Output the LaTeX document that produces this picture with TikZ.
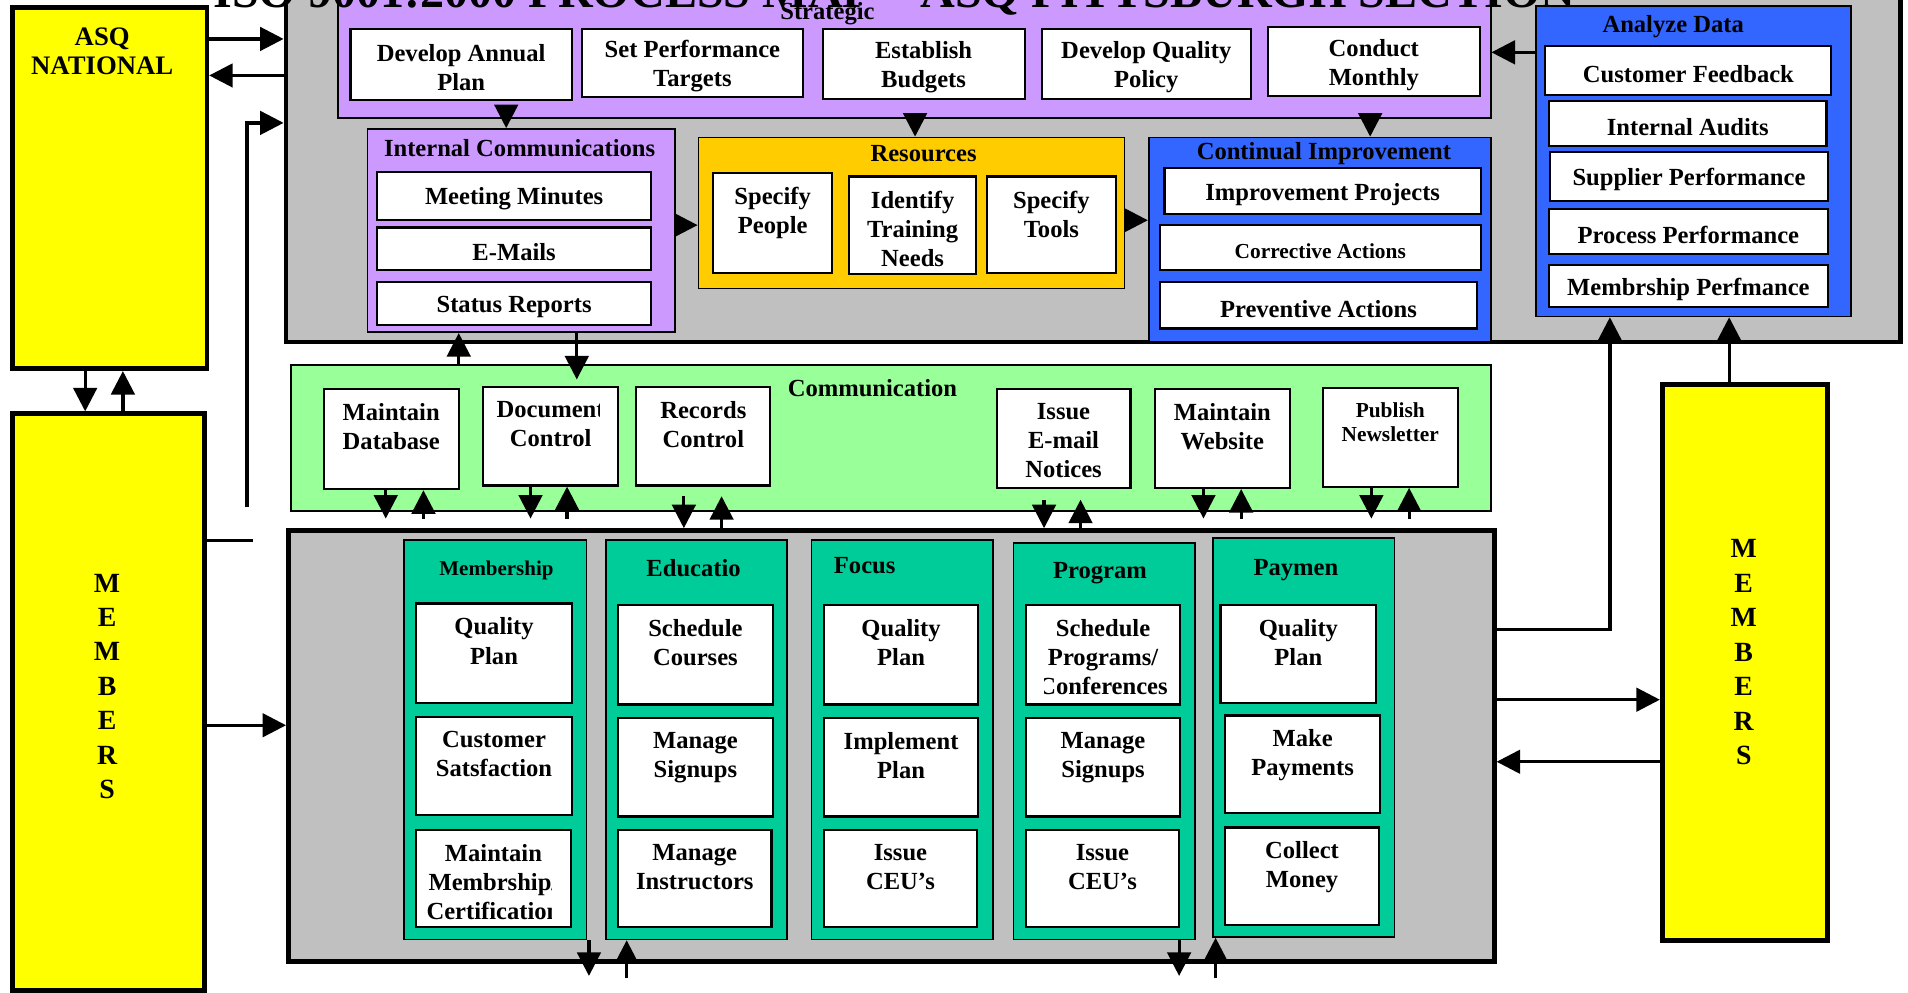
\documentclass[tikz,border=0pt]{standalone}
\usepackage{fontspec}
\setmainfont{Liberation Serif}
\usetikzlibrary{
    arrows.meta,
    fit,
    positioning
}

\definecolor{asqyellow}{HTML}{FFFF00}
\definecolor{panelgray}{HTML}{C0C0C0}
\definecolor{lilac}{HTML}{CC99FF}
\definecolor{amber}{HTML}{FFCC00}
\definecolor{royal}{HTML}{3366FF}
\definecolor{mint}{HTML}{99FF99}
\definecolor{jade}{HTML}{00CC99}

\tikzset{
    txt/.style={font=\bfseries\fontsize{11.5}{13.6}\selectfont, align=center, inner sep=0pt},
    smalltxt/.style={font=\bfseries\fontsize{10}{11.5}\selectfont, align=center, inner sep=0pt},
    head/.style={font=\bfseries\fontsize{11.5}{13.6}\selectfont, inner sep=0pt, anchor=base},
    toplbl/.style={txt, anchor=north, yshift=-7pt},
    midlbl/.style={txt, yshift=-1.5pt},
    mid/.style={label={[midlbl]center:{#1}}},
    midsmall/.style={label={[midlbl, smalltxt]center:{#1}}},
    upper/.style={label={[toplbl]north:{#1}}},
    uppersmall/.style={label={[toplbl, smalltxt]north:{#1}}},
    letters/.style={font=\bfseries\fontsize{13}{16.1}\selectfont, align=center, inner sep=0pt},
    banner/.style={font=\bfseries\fontsize{22.5}{27}\selectfont, inner sep=0pt, anchor=base},
    panel/.style={draw, fill=panelgray, line width=2.2pt, inner sep=0pt},
    pillar/.style={draw, fill=asqyellow, line width=2.2pt, inner sep=0pt},
    group/.style={draw, line width=0.8pt, inner sep=0pt},
    task/.style={draw, fill=white, line width=1pt, inner sep=0pt},
    flow/.style={-{Triangle[length=11pt, width=11pt]}, line width=1.5pt},
    wire/.style={line width=1.5pt}
}

\begin{document}
\begin{tikzpicture}[x=0.02cm, y=-0.02cm]
    \useasboundingbox (0,0) rectangle (1568,816);
    \clip (0,0) rectangle (1568,816);

    \node[pillar, fit={(10,6) (170,303)}] (asq) {};
    \node[letters, font=\bfseries\fontsize{12.5}{13.7}\selectfont] (asqtext) at (84,42) {ASQ\\NATIONAL};
    \node[pillar, fit={(10,340) (168,814)}] (memL) {};
    \node[letters] (memLtext) at (88,564) {M\\E\\M\\B\\E\\R\\S};
    \node[pillar, fit={(1366,316) (1502,773)}] (memR) {};
    \node[letters] (memRtext) at (1433,536) {M\\E\\M\\B\\E\\R\\S};

    \node[panel, fit={(235,-20) (1562,281)}] (top) {};

    \node[group, fill=lilac, fit={(278,-10) (1225,97)}] (strat) {};
    \node[head] (strathd) at (680,16) {Strategic};
    \node[task, fit={(288,24) (470,82)}, mid={Develop Annual\\Plan}] (dap) {};
    \node[task, fit={(478,24) (660,80)}, mid={Set Performance\\Targets}] (spt) {};
    \node[task, fit={(676,24) (842,81)}, mid={Establish\\Budgets}] (ebg) {};
    \node[task, fit={(856,24) (1028,81)}, mid={Develop Quality\\Policy}] (dqp) {};
    \node[task, fit={(1042,22) (1216,79)}, mid={Conduct\\Monthly}] (cmo) {};

    \node[group, fill=lilac, fit={(302,106) (555,273)}] (ic) {};
    \node[head] (ichd) at (427,129) {Internal Communications};
    \node[task, fit={(310,141) (535,181)}, mid={Meeting Minutes}] (mmn) {};
    \node[task, fit={(310,187) (535,222)}, mid={E-Mails}] (eml) {};
    \node[task, fit={(310,232) (535,267)}, mid={Status Reports}] (srp) {};

    \node[group, fill=amber, fit={(574,113) (924,237)}] (res) {};
    \node[head] (reshd) at (759,133) {Resources};
    \node[task, fit={(586,142) (684,224)}, upper={Specify\\People}] (spp) {};
    \node[task, fit={(698,145) (802,225)}, upper={Identify\\Training\\Needs}] (itn) {};
    \node[task, fit={(811,145) (917,224)}, upper={Specify\\Tools}] (stl) {};

    \node[group, fill=royal, fit={(944,113) (1225,281)}] (ci) {};
    \node[head] (cihd) at (1088,131) {Continual Improvement};
    \node[task, fit={(957,138) (1217,176)}, mid={Improvement Projects}] (ipj) {};
    \node[task, fit={(953,185) (1217,222)}, midsmall={Corrective Actions}] (cac) {};
    \node[task, fit={(953,232) (1214,270)}, mid={Preventive Actions}] (pac) {};

    \node[group, fill=royal, fit={(1262,5) (1521,260)}] (ad) {};
    \node[head] (adhd) at (1375,27) {Analyze Data};
    \node[task, fit={(1270,38) (1505,78)}, mid={Customer Feedback}] (cfb) {};
    \node[task, fit={(1273,83) (1501,120)}, mid={Internal Audits}] (iau) {};
    \node[task, fit={(1274,125) (1502,165)}, mid={Supplier Performance}] (spf) {};
    \node[task, fit={(1273,172) (1502,209)}, mid={Process Performance}] (ppf) {};
    \node[task, fit={(1273,218) (1502,252)}, mid={Membrship Perfmance}] (mpf) {};

    \node[group, fill=mint, fit={(239,300) (1225,420)}] (comm) {};
    \node[head] (commhd) at (717,326) {Communication};
    \node[task, fit={(266,320) (377,402)}, upper={Maintain\\Database}] (mdb) {};
    \node[task, fit={(397,318) (508,399)}] (dct) {};
    \begin{scope}
        \clip (dct.north west) rectangle (493,399);
        \node[toplbl] (dcttext) at (dct.north) {Document\\Control};
    \end{scope}
    \node[task, fit={(523,318) (633,399)}, upper={Records\\Control}] (rct) {};
    \node[task, fit={(819,320) (929,401)}, upper={Issue\\E-mail\\Notices}] (iem) {};
    \node[task, fit={(949,320) (1060,401)}, upper={Maintain\\Website}] (mws) {};
    \node[task, fit={(1087,319) (1198,400)}, uppersmall={Publish\\Newsletter}] (pnl) {};

    \node[panel, fit={(237,436) (1228,790)}] (bot) {};

    \node[group, fill=jade, fit={(332,444) (482,772)}] (mem) {};
    \node[head, font=\bfseries\fontsize{9.8}{11}\selectfont] (memhd) at (408,473) {Membership};
    \node[task, fit={(342,496) (470,578)}, upper={Quality\\Plan}] (mqp) {};
    \node[task, fit={(342,589) (470,670)}, upper={Customer\\Satsfaction}] (mcs) {};
    \node[task, fit={(342,682) (469,762)}] (mmc) {};
    \begin{scope}
        \clip (mmc.north west) rectangle (453,762);
        \node[toplbl] (mmctext) at (mmc.north) {Maintain\\Membrship/\\Certification};
    \end{scope}

    \node[group, fill=jade, fit={(498,444) (647,772)}] (edu) {};
    \node[head] (eduhd) at (570,474) {Educatio};
    \node[task, fit={(508,497) (635,579)}, upper={Schedule\\Courses}] (esc) {};
    \node[task, fit={(508,590) (635,671)}, upper={Manage\\Signups}] (ems) {};
    \node[task, fit={(508,682) (634,762)}, upper={Manage\\Instructors}] (emi) {};

    \node[group, fill=jade, fit={(667,444) (816,772)}] (foc) {};
    \node[head, anchor=base west] (fochd) at (685,471) {Focus};
    \node[task, fit={(677,497) (804,579)}, upper={Quality\\Plan}] (fqp) {};
    \node[task, fit={(677,590) (804,671)}, upper={Implement\\Plan}] (fip) {};
    \node[task, fit={(677,682) (803,762)}, upper={Issue\\CEU’s}] (fic) {};

    \node[group, fill=jade, fit={(833,446) (982,772)}] (prog) {};
    \node[head] (proghd) at (904,475) {Program};
    \node[task, fit={(843,497) (970,579)}] (psp) {};
    \begin{scope}
        \clip (858,497) rectangle (psp.south east);
        \node[toplbl] (psptext) at (psp.north) {Schedule\\Programs/\\Conferences};
    \end{scope}
    \node[task, fit={(843,590) (970,671)}, upper={Manage\\Signups}] (pms) {};
    \node[task, fit={(843,682) (969,762)}, upper={Issue\\CEU’s}] (pic) {};

    \node[group, fill=jade, fit={(997,442) (1146,770)}] (pay) {};
    \node[head] (payhd) at (1065,473) {Paymen};
    \node[task, fit={(1003,497) (1131,578)}, upper={Quality\\Plan}] (yqp) {};
    \node[task, fit={(1007,588) (1134,668)}, upper={Make\\Payments}] (ymp) {};
    \node[task, fit={(1007,680) (1133,760)}, upper={Collect\\Money}] (ycm) {};

    \coordinate (tap) at (203,417);
    \coordinate (stub) at (208,444);
    \coordinate (memout) at (484,802);
    \coordinate (eduin) at (515,804);
    \coordinate (progout) at (969,802);
    \coordinate (payin) at (999,804);

    \draw[flow] (asq.east |- 0,32) -- (top.west |- 0,32);
    \draw[flow] (top.west |- 0,62) -- (asq.east |- 0,62);
    \draw[flow] (tap) |- (top.west |- 0,101);
    \draw[wire] (memL.east |- stub) -- (stub);
    \draw[flow] (asq.south -| 70,0) -- (memL.north -| 70,0);
    \draw[flow] (memL.north -| 101,0) -- (asq.south -| 101,0);
    \draw[flow] (memL.east |- 0,596) -- (bot.west |- 0,596);

    \draw[flow] (strat.south -| 416,0) -- (ic.north -| 416,0);
    \draw[flow] (strat.south -| 752,0) -- (res.north -| 752,0);
    \draw[flow] (strat.south -| 1126,0) -- (ci.north -| 1126,0);
    \draw[flow] (ad.west |- 0,43) -- (strat.east |- 0,43);
    \draw[flow] (ic.east |- 0,185) -- (res.west |- 0,185);
    \draw[flow] (res.east |- 0,181) -- (ci.west |- 0,181);

    \draw[flow] (comm.north -| 377,0) -- (ic.south -| 377,0);
    \draw[flow, shorten >=3pt] (ic.south -| 474,0) -- (dct.north -| 474,0);

    \draw[flow, shorten >=4.5pt] (mdb.south -| 317,0) -- (bot.north -| 317,0);
    \draw[flow, shorten <=4.5pt] (bot.north -| 348,0) -- (mdb.south -| 348,0);
    \draw[flow, shorten >=4.5pt] (dct.south -| 436,0) -- (bot.north -| 436,0);
    \draw[flow, shorten <=4.5pt] (bot.north -| 466,0) -- (dct.south -| 466,0);
    \draw[flow, shorten <=4.5pt] (rct.south -| 562,0) -- (bot.north -| 562,0);
    \draw[flow, shorten >=4.5pt] (bot.north -| 593,0) -- (rct.south -| 593,0);
    \draw[flow, shorten <=5pt] (iem.south -| 858,0) -- (bot.north -| 858,0);
    \draw[flow, shorten >=5pt] (bot.north -| 888,0) -- (iem.south -| 888,0);
    \draw[flow, shorten >=4.5pt] (mws.south -| 989,0) -- (bot.north -| 989,0);
    \draw[flow, shorten <=4.5pt] (bot.north -| 1020,0) -- (mws.south -| 1020,0);
    \draw[flow, shorten >=4.5pt] (pnl.south -| 1127,0) -- (bot.north -| 1127,0);
    \draw[flow, shorten <=4.5pt] (bot.north -| 1158,0) -- (pnl.south -| 1158,0);

    \draw[flow] (mem.south -| memout) -- (memout);
    \draw[flow] (eduin) -- (edu.south -| eduin);
    \draw[flow] (prog.south -| progout) -- (progout);
    \draw[flow] (payin) -- (pay.south -| payin);

    \draw[flow] (bot.east |- 0,517) -| (ad.south -| 1323,0);
    \draw[flow] (memR.north -| 1421,0) -- (ad.south -| 1421,0);
    \draw[flow] (bot.east |- 0,575) -- (memR.west |- 0,575);
    \draw[flow] (memR.west |- 0,626) -- (bot.east |- 0,626);

    \node[banner] (title) at (735,6) {ISO 9001:2000 PROCESS MAP – ASQ PITTSBURGH SECTION};
\end{tikzpicture}
\end{document}
